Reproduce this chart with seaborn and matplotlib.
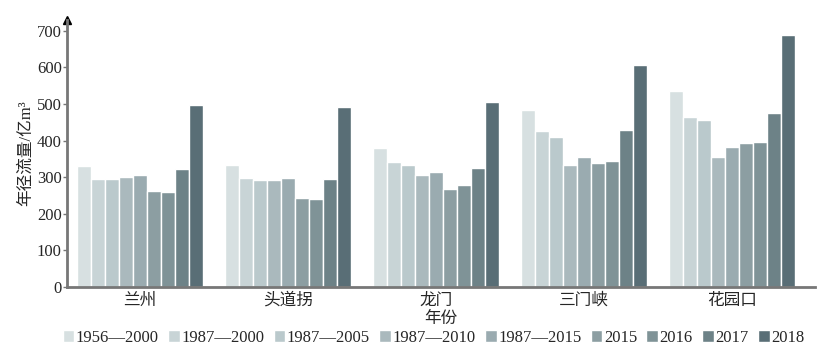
import numpy as np
import pandas as pd
import seaborn as sns
import matplotlib.pyplot as plt

sns.set_style("white")
plt.rcParams['font.family'] = ['Liberation Serif', 'Noto Sans CJK SC']
plt.rcParams['axes.unicode_minus'] = False

# stations and periods
stations = ['兰州', '头道拐', '龙门', '三门峡', '花园口']
periods = ['1956—2000', '1987—2000', '1987—2005', '1987—2010', '1987—2015',
           '2015', '2016', '2017', '2018']

# annual runoff, 亿m3 (one list per station, in period order)
lanzhou = [330, 296, 295, 301, 307, 262, 261, 322, 496]
toudaoguai = [332, 298, 293, 293, 298, 242, 240, 295, 491]
longmen = [379, 342, 334, 307, 315, 268, 278, 325, 505]
sanmenxia = [483, 425, 409, 333, 355, 339, 345, 428, 605]
huayuankou = [534, 464, 456, 356, 382, 393, 396, 474, 687]

colors = ['#d7e0e1', '#c8d4d6', '#bac9cc', '#aab9bd', '#9aabb0',
          '#8c9ea2', '#7f9397', '#6d8287', '#596e76']

values = [lanzhou, toudaoguai, longmen, sanmenxia, huayuankou]
rows = []
for st, vals in zip(stations, values):
    for p, v in zip(periods, vals):
        rows.append({'station': st, 'period': p, 'runoff': v})
df = pd.DataFrame(rows)

fig, ax = plt.subplots(figsize=(8.4, 3.58), dpi=100)
sns.barplot(data=df, x='station', y='runoff', hue='period', hue_order=periods,
            order=stations, palette=colors, width=0.85, saturation=1,
            edgecolor='white', linewidth=1.0, ax=ax)

ax.set_ylim(0, 730)
ax.set_xlim(-0.49, 4.56)
ax.set_yticks(range(0, 701, 100))
ax.set_xlabel('年份', fontsize=12, labelpad=1.5)
ax.set_ylabel('年径流量/亿m³', fontsize=12, labelpad=2)
ax.tick_params(axis='y', labelsize=12, length=3, width=1, color='#777777', pad=1, direction='out', left=True)
ax.tick_params(axis='x', labelsize=12, length=0, pad=4)

for s in ['top', 'right']:
    ax.spines[s].set_visible(False)
for s in ['left', 'bottom']:
    ax.spines[s].set_color('#777777')
    ax.spines[s].set_linewidth(2)

# arrow head on y axis
ax.plot(0, 1, marker='^', color='black', markersize=6,
        transform=ax.transAxes, clip_on=False)

ax.legend(loc='upper center', bbox_to_anchor=(0.49, -0.135), ncol=9, frameon=False,
          fontsize=12, handlelength=0.7, handleheight=0.7, handletextpad=0.1,
          columnspacing=0.55, borderaxespad=0)

plt.subplots_adjust(left=0.08, right=0.97, bottom=0.198, top=0.945)
plt.savefig('out.png', dpi=100)
